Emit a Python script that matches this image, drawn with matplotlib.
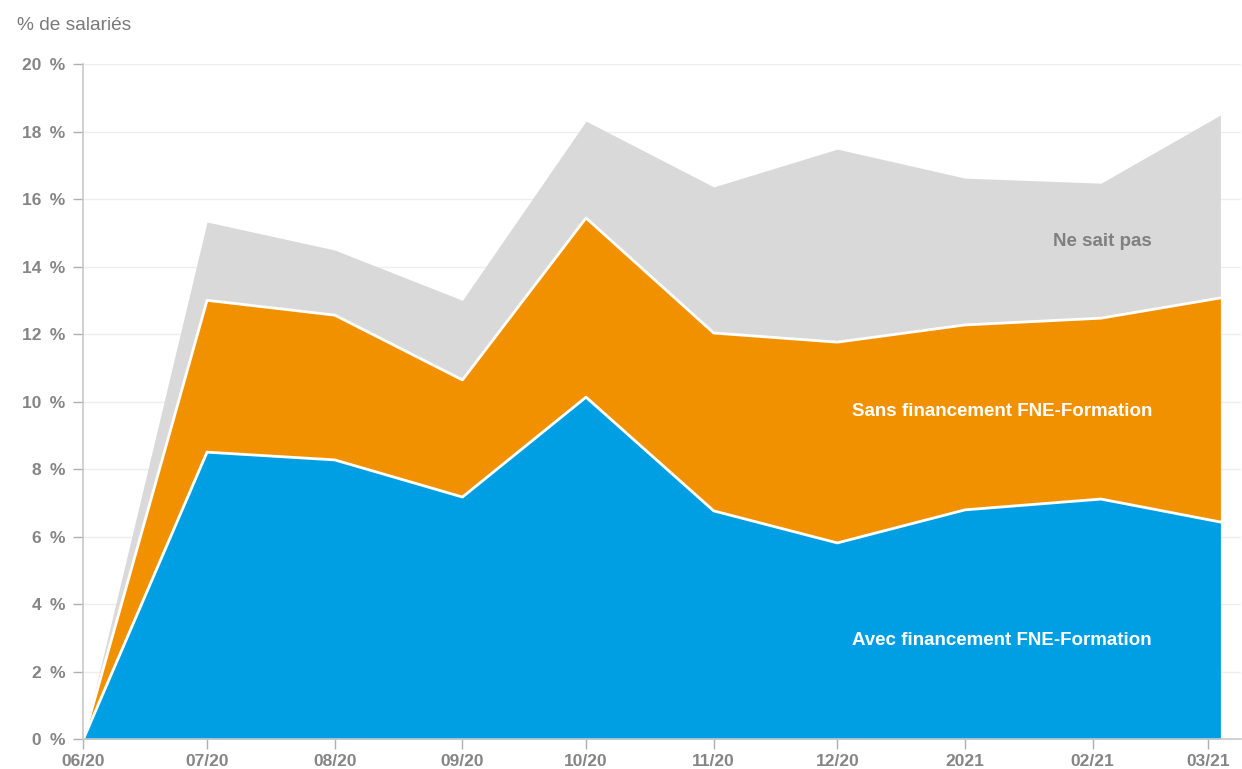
import matplotlib
matplotlib.use("Agg")
import matplotlib.pyplot as plt
import numpy as np
import pandas as pd

# --- Données ---
dates = pd.to_datetime(["2020-06-01", "2020-07-01", "2020-08-01", "2020-09-01",
                        "2020-10-01", "2020-11-01", "2020-12-01", "2021-01-01",
                        "2021-02-03", "2021-03-04"])
avec = np.array([0, 8.5, 8.27, 7.17, 10.13, 6.76, 5.81, 6.79, 7.11, 6.43])
sans = np.array([0, 4.5, 4.29, 3.47, 5.31, 5.27, 5.95, 5.48, 5.36, 6.64])
ne_sait_pas = np.array([0, 2.32, 1.93, 2.36, 2.87, 4.33, 5.72, 4.35, 4.0, 5.42])

tick_dates = pd.date_range("2020-06-01", "2021-03-01", freq="MS")
tick_labels = ["06/20", "07/20", "08/20", "09/20", "10/20", "11/20", "12/20",
               "2021", "02/21", "03/21"]

# --- Couleurs ---
c_bleu = "#009fe3"
c_orange = "#f29100"
c_gris = "#d9d9d9"
c_texte = "#858585"

plt.rcParams['font.family'] = ['Liberation Sans', 'DejaVu Sans']

fig = plt.figure(figsize=(12.42, 7.69), dpi=100)
ax = fig.add_axes([0.0672, 0.039, 0.932, 0.8777])

bas = np.zeros(len(avec))
h1 = avec
h2 = avec + sans
h3 = avec + sans + ne_sait_pas

ax.fill_between(dates, h2, h3, color=c_gris, lw=0, zorder=2)
ax.fill_between(dates, h1, h2, color=c_orange, lw=0, zorder=2)
ax.fill_between(dates, bas, h1, color=c_bleu, lw=0, zorder=2)
ax.plot(dates, h1, color="white", lw=2, zorder=3)
ax.plot(dates, h2, color="white", lw=2, zorder=3)

# --- Axes ---
ax.set_ylim(0, 20)
ax.set_xlim(pd.Timestamp("2020-06-01"), pd.Timestamp("2021-03-09"))
ax.set_yticks(np.arange(0, 21, 2))
ax.set_yticklabels([f"{v}\u2009 %" for v in range(0, 21, 2)])
ax.set_xticks(tick_dates)
ax.set_xticklabels(tick_labels)
ax.grid(axis="y", color="#eeeeee", lw=1, zorder=0)
ax.set_axisbelow(True)
for s in ["top", "right"]:
    ax.spines[s].set_visible(False)
for s in ["left", "bottom"]:
    ax.spines[s].set_color("#c8c8c8")
    ax.spines[s].set_linewidth(1.2)
    ax.spines[s].set_zorder(4)
ax.tick_params(axis="both", colors="#b0b0b0", length=7, width=1,
               labelcolor=c_texte, labelsize=12.5, pad=6)
ax.tick_params(axis="x", pad=4)
for lab in ax.get_xticklabels() + ax.get_yticklabels():
    lab.set_fontweight("bold")

fig.text(0.014, 0.967, "% de salariés", color="#7a7a7a", fontsize=13.8,
         ha="left", va="center")

# --- Étiquettes des séries ---
ax.text(0.9275, 0.6866, "Ne sait pas", transform=fig.transFigure, ha="right",
        va="center", color="#808080", fontsize=13.5, fontweight="bold", zorder=5)
ax.text(0.9275, 0.4655, "Sans financement FNE-Formation", transform=fig.transFigure,
        ha="right", va="center", color="white", fontsize=13.5, fontweight="bold", zorder=5)
ax.text(0.9275, 0.1675, "Avec financement FNE-Formation", transform=fig.transFigure,
        ha="right", va="center", color="white", fontsize=13.5, fontweight="bold", zorder=5)

fig.savefig("out.png", dpi=100)
